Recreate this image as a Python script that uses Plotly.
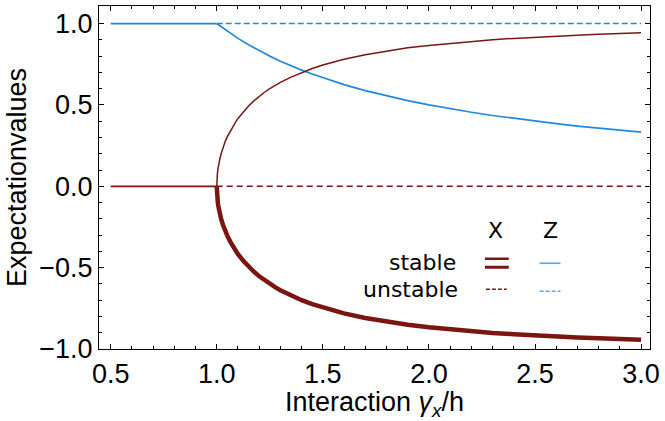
import plotly.graph_objects as go

# ---- data ----
x_pre = [0.5, 1.0]
z_pre = [1.0, 1.0]
xpre_val = [0.0, 0.0]

x_branch = [1.0, 1.0002, 1.0005, 1.001, 1.002, 1.003, 1.005, 1.0075, 1.01, 1.015, 1.02, 1.03,
            1.04, 1.05, 1.065, 1.08, 1.09, 1.1, 1.125, 1.15, 1.175, 1.2, 1.225, 1.25, 1.275,
            1.3, 1.35, 1.4, 1.45, 1.5, 1.55, 1.6, 1.7, 1.8, 1.9, 2.0, 2.1, 2.2, 2.3, 2.4,
            2.5, 2.6, 2.7, 2.8, 2.9, 3.0]
x_upper = [0.0, 0.020, 0.032, 0.045, 0.063, 0.077, 0.100, 0.122, 0.140, 0.171, 0.197, 0.240,
           0.276, 0.305, 0.343, 0.375, 0.398, 0.417, 0.458, 0.494, 0.525, 0.553, 0.578, 0.600,
           0.620, 0.639, 0.671, 0.700, 0.724, 0.745, 0.764, 0.781, 0.809, 0.832, 0.851, 0.866,
           0.879, 0.891, 0.901, 0.909, 0.917, 0.923, 0.929, 0.934, 0.939, 0.943]
x_lower = [-v for v in x_upper]

z_x = [1.0, 1.05, 1.1, 1.15, 1.2, 1.25, 1.3, 1.35, 1.4, 1.45, 1.5, 1.55, 1.6, 1.7, 1.8, 1.9,
       2.0, 2.1, 2.2, 2.3, 2.4, 2.5, 2.6, 2.7, 2.8, 2.9, 3.0]
z_stable = [1.0, 0.952, 0.909, 0.870, 0.833, 0.800, 0.769, 0.741, 0.714, 0.690, 0.667, 0.645,
            0.625, 0.588, 0.556, 0.526, 0.500, 0.476, 0.455, 0.435, 0.417, 0.400, 0.385,
            0.370, 0.357, 0.345, 0.333]

unst_x = [1.0, 3.0]
x_unstable = [0.0, 0.0]
z_unstable = [1.0, 1.0]

RED = "#7a1510"
BLUE = "#2188e0"

fig = go.Figure()
fig.add_trace(go.Scatter(x=unst_x, y=z_unstable, mode="lines",
                         line=dict(color=BLUE, width=1.5, dash="6px,3px")))
fig.add_trace(go.Scatter(x=unst_x, y=x_unstable, mode="lines",
                         line=dict(color=RED, width=1.5, dash="6px,4px")))
fig.add_trace(go.Scatter(x=x_pre, y=z_pre, mode="lines", line=dict(color=BLUE, width=1.7)))
fig.add_trace(go.Scatter(x=z_x, y=z_stable, mode="lines", line=dict(color=BLUE, width=1.7)))
fig.add_trace(go.Scatter(x=x_pre, y=xpre_val, mode="lines", line=dict(color=RED, width=1.7)))
fig.add_trace(go.Scatter(x=x_branch, y=x_upper, mode="lines", line=dict(color=RED, width=1.5)))
fig.add_trace(go.Scatter(x=x_branch, y=x_lower, mode="lines", line=dict(color=RED, width=4.5)))

L, R, T, B = 99, 653, 5, 349
W, H = 665, 421


def px(x):
    return (x - L) / (R - L)


def py(y):
    return 1 - (y - T) / (B - T)


LFONT = dict(family="DejaVu Sans", size=22, color="black")
annotations = []
for txt, xx in [("X", 498), ("Z", 553)]:
    annotations.append(dict(text=txt, x=px(xx), y=py(230), xref="paper", yref="paper",
                            xanchor="center", yanchor="middle", showarrow=False, font=LFONT))
for txt, yy, xr in [("stable", 262, 460), ("unstable", 289, 462)]:
    annotations.append(dict(text=txt, x=px(xr), y=py(yy), xref="paper", yref="paper",
                            xanchor="right", yanchor="middle", showarrow=False, font=LFONT))

shapes = [
    dict(type="line", xref="paper", yref="paper", x0=px(487), x1=px(511), y0=py(258.5), y1=py(258.5),
         line=dict(color=RED, width=2.5)),
    dict(type="line", xref="paper", yref="paper", x0=px(487), x1=px(511), y0=py(267), y1=py(267),
         line=dict(color=RED, width=3)),
    dict(type="line", xref="paper", yref="paper", x0=px(542), x1=px(563), y0=py(263), y1=py(263),
         line=dict(color="#5aa8ee", width=1.7)),
    dict(type="line", xref="paper", yref="paper", x0=px(488), x1=px(509), y0=py(289), y1=py(289),
         line=dict(color=RED, width=1.5, dash="4px,2px")),
    dict(type="line", xref="paper", yref="paper", x0=px(542), x1=px(563), y0=py(291), y1=py(291),
         line=dict(color="#5aa8ee", width=1.5, dash="4px,2px")),
]

TFONT = dict(family="Liberation Sans, Arial", size=27, color="black")
axis_common = dict(showline=True, linecolor="black", linewidth=1.3, mirror="allticks",
                   ticks="inside", ticklen=5, tickwidth=1.2, tickcolor="black",
                   showgrid=False, zeroline=False, tickfont=TFONT)

fig.update_layout(
    width=W, height=H,
    margin=dict(l=L, r=W - R, t=T, b=H - B),
    plot_bgcolor="white", paper_bgcolor="white",
    showlegend=False,
    annotations=annotations,
    shapes=shapes,
    xaxis=dict(range=[0.445, 3.042], tickvals=[0.5, 1.0, 1.5, 2.0, 2.5, 3.0],
               ticktext=["0.5", "1.0", "1.5", "2.0", "2.5", "3.0"],
               minor=dict(ticks="inside", ticklen=3, tickwidth=1, tickcolor="black",
                          tickvals=[0.6, 0.7, 0.8, 0.9, 1.1, 1.2, 1.3, 1.4, 1.6, 1.7, 1.8, 1.9,
                                    2.1, 2.2, 2.3, 2.4, 2.6, 2.7, 2.8, 2.9]),
               title=dict(text="Interaction <i>γ</i><sub><i>x</i></sub>/h", font=TFONT, standoff=3),
               **axis_common),
    yaxis=dict(range=[-1.0, 1.108], tickvals=[-1.0, -0.5, 0.0, 0.5, 1.0],
               ticktext=["\u22121.0", "\u22120.5", "0.0", "0.5", "1.0"],
               minor=dict(ticks="inside", ticklen=3, tickwidth=1, tickcolor="black",
                          tickvals=[-0.9, -0.8, -0.7, -0.6, -0.4, -0.3, -0.2, -0.1,
                                    0.1, 0.2, 0.3, 0.4, 0.6, 0.7, 0.8, 0.9]),
               title=dict(text="Expectationvalues", font=TFONT, standoff=4),
               **axis_common),
)

fig.write_html("out.html")
